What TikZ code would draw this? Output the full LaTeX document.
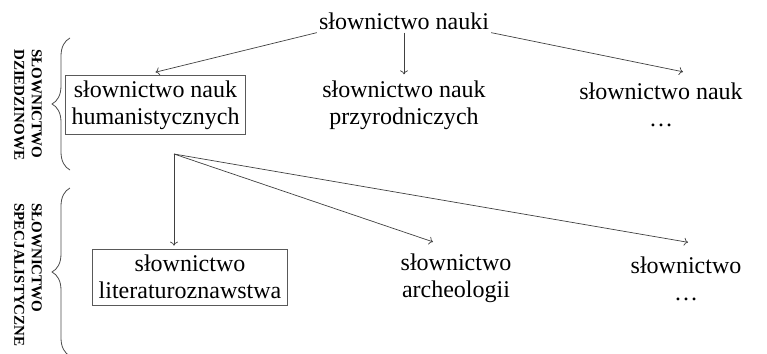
\documentclass[tikz,border=0pt]{standalone}
\usepackage{fontspec}
\setmainfont{Liberation Serif}
\usetikzlibrary{arrows.meta,decorations.pathreplacing}
\begin{document}
\begin{tikzpicture}[x=1pt,y=-1pt,
  txt/.style={font=\fontsize{24}{27}\selectfont, align=center, inner xsep=6pt, inner ysep=5pt, text=black},
  boxed/.style={txt, draw=black!65, line width=0.8pt},
  arr/.style={draw=black!75, line width=0.7pt, -{To[length=4pt,width=8pt]}},
  brc/.style={draw=black!70, line width=0.8pt, decorate, decoration={brace, amplitude=18pt}},
  side/.style={font=\fontsize{15}{17.5}\selectfont\bfseries, align=left, rotate=-90, anchor=north west, inner sep=0pt, text=black}
]
\useasboundingbox (0,0) rectangle (767,353);
\clip (0,0) rectangle (767,353);

% top
\node[txt, inner ysep=3pt, inner xsep=2pt] (top) at (404,21) {słownictwo nauki};

% level 1
\node[boxed] (h) at (155.5,105) {słownictwo nauk\\humanistycznych};
\node[txt] (p) at (404,105) {słownictwo nauk\\przyrodniczych};
\node[txt] (d) at (661,105) {słownictwo nauk\\…};

\draw[arr] (top.south west) -- ([yshift=3pt]h.north);
\draw[arr] (top.south) -- ([yshift=1pt]p.north);
\draw[arr] (top.south east) -- ([xshift=22pt,yshift=6pt]d.north);

% level 2
\coordinate (hub) at (174,154);
\node[boxed, inner ysep=6pt] (l) at (190,277) {słownictwo\\literaturoznawstwa};
\node[txt] (a) at (456,278.5) {słownictwo\\archeologii};
\node[txt] (r) at (686,278.5) {słownictwo\\…};

\draw[arr] (hub) -- ([yshift=3pt]hub |- l.north);
\draw[arr] (hub) -- ([xshift=-23pt,yshift=7pt]a.north);
\draw[arr] (hub) -- ([xshift=2pt,yshift=9pt]r.north);

% braces
\coordinate (b1s) at (70,170);
\coordinate (b1e) at (70,38);
\draw[brc] (b1s) -- (b1e);
\coordinate (b2s) at (70,356);
\coordinate (b2e) at (70,188);
\draw[brc] (b2s) -- (b2e);

% side labels
\node[side] (s1) at (42,49) {SŁOWNICTWO\\DZIEDZINOWE};
\node[side] (s2) at (42,203) {SŁOWNICTWO\\SPECJALISTYCZNE};
\end{tikzpicture}
\end{document}
